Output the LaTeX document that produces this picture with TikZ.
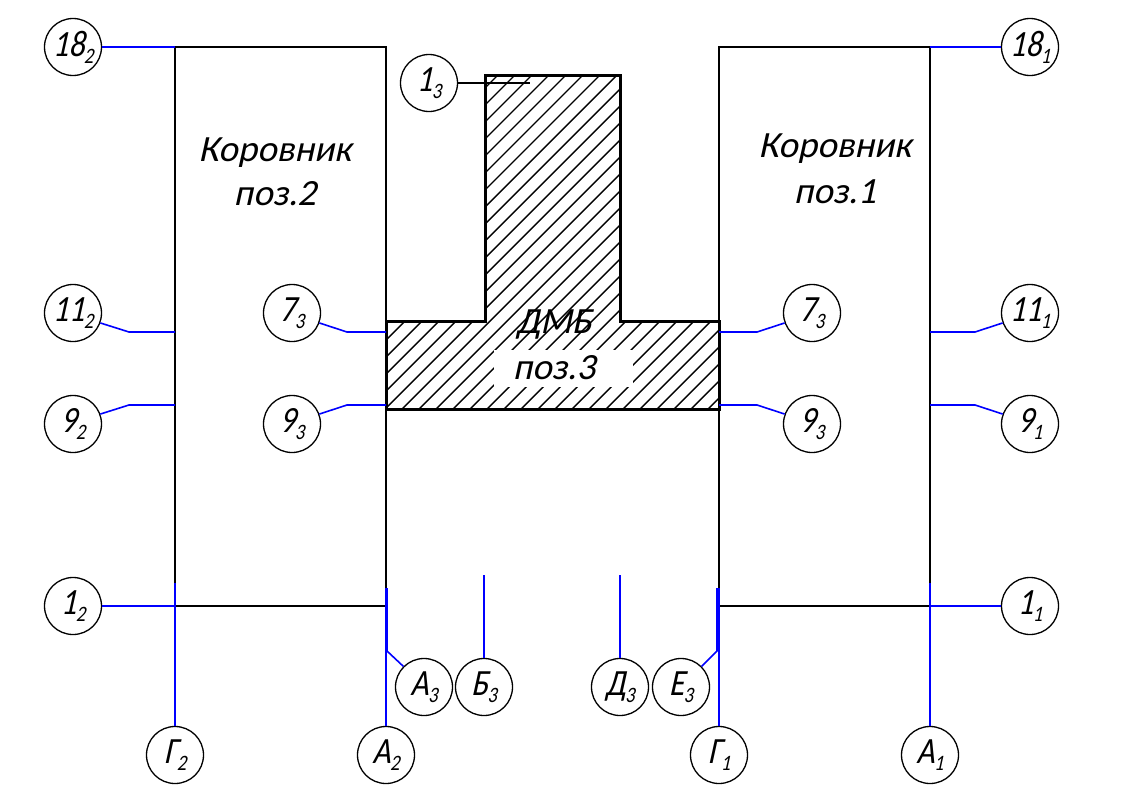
\documentclass[tikz,border=0pt]{standalone}
\usepackage{fontspec}
\setmainfont[FakeSlant=0.22]{Carlito}
\newfontfamily\narrowgost[FakeSlant=0.22,FakeStretch=0.85]{Carlito}
\newcommand{\lbl}[2]{{\narrowgost\fontsize{37}{37}\selectfont #1}\kern-0.5pt\raisebox{-7pt}{\narrowgost\fontsize{22}{22}\selectfont #2}}
\tikzset{
  mark circle/.style={circle,draw=black,line width=1.3pt,minimum size=57pt,inner sep=0pt,fill=white},
  wall/.style={draw=black,line width=2.1pt},
  thickwall/.style={draw=black,line width=3pt,line join=miter},
  lead/.style={draw=blue,line width=1.6pt},
  blead/.style={draw=black,line width=1.3pt},
  hatchline/.style={draw=black,line width=1.4pt},
  title/.style={align=center,font=\fontsize{37}{46}\selectfont,inner sep=0pt}
}
\begin{document}
\begin{tikzpicture}[x=1pt,y=-1pt]
\useasboundingbox (0,0) rectangle (1121,795);
% hatching
\begin{scope}
\clip (386,321) -- (485,321) -- (485,75) -- (620,75) -- (620,321) -- (719,321) -- (719,409) -- (386,409) -- cycle;
\foreach \c in {471,488,...,1128}{
  \draw[hatchline] (\c-409,409) -- (\c-70,70);
}
\fill[white] (494,350) rectangle (633,387);
\end{scope}
% buildings
\draw[wall] (386,606) -- (175,606) -- (175,47) -- (386,47) -- (386,606);
\draw[wall] (719,606) -- (930,606) -- (930,47) -- (719,47) -- (719,606);
\draw[thickwall] (386,321) -- (485,321) -- (485,75) -- (620,75) -- (620,321) -- (719,321) -- (719,409) -- (386,409) -- cycle;
% titles
\node[title] (t2) at (275,172) {Коровник\\[-2pt]поз.2};
\node[title] (t1) at (835,169) {Коровник\\поз.1};
\node[title] (t3) at (554,345) {ДМБ\\поз.3};
% numbered circles
\node[mark circle] (n18b) at (73,47) {\lbl{18}{2}};
\node[mark circle] (n18a) at (1030,47) {\lbl{18}{1}};
\node[mark circle] (n1c) at (429,83) {\lbl{1}{3}};
\node[mark circle] (n11b) at (73,313) {\lbl{11}{2}};
\node[mark circle] (n7l) at (292,313) {\lbl{7}{3}};
\node[mark circle] (n7r) at (812,313) {\lbl{7}{3}};
\node[mark circle] (n11a) at (1030,313) {\lbl{11}{1}};
\node[mark circle] (n9b) at (73,424) {\lbl{9}{2}};
\node[mark circle] (n9l) at (292,424) {\lbl{9}{3}};
\node[mark circle] (n9r) at (812,424) {\lbl{9}{3}};
\node[mark circle] (n9a) at (1030,424) {\lbl{9}{1}};
\node[mark circle] (n1b) at (73,606) {\lbl{1}{2}};
\node[mark circle] (n1a) at (1030,606) {\lbl{1}{1}};
\node[mark circle] (Gb) at (175,755) {\lbl{Г}{2}};
\node[mark circle] (Ab) at (386,755) {\lbl{А}{2}};
\node[mark circle] (Ga) at (719,755) {\lbl{Г}{1}};
\node[mark circle] (Aa) at (930,755) {\lbl{А}{1}};
\node[mark circle] (Ac) at (424,687) {\lbl{А}{3}};
\node[mark circle] (Bc) at (484,687) {\lbl{Б}{3}};
\node[mark circle] (Dc) at (620,687) {\lbl{Д}{3}};
\node[mark circle] (Ec) at (681,687) {\lbl{Е}{3}};
% free ends
\coordinate (e18b) at (175,47);
\coordinate (e18a) at (930,47);
\coordinate (e1c) at (530,83);
\coordinate (k11b) at (129,332); \coordinate (e11b) at (175,332);
\coordinate (k7l) at (347,332); \coordinate (e7l) at (386,332);
\coordinate (k7r) at (757,332); \coordinate (e7r) at (719,332);
\coordinate (k11a) at (975,332); \coordinate (e11a) at (930,332);
\coordinate (k9b) at (129,405); \coordinate (e9b) at (175,405);
\coordinate (k9l) at (347,405); \coordinate (e9l) at (386,405);
\coordinate (k9r) at (757,405); \coordinate (e9r) at (719,405);
\coordinate (k9a) at (975,405); \coordinate (e9a) at (930,405);
\coordinate (e1b) at (175,606);
\coordinate (e1a) at (930,606);
\coordinate (eGb) at (175,583);
\coordinate (eAb) at (386,588);
\coordinate (eGa) at (719,588);
\coordinate (eAa) at (930,583);
\coordinate (eBc) at (484,575);
\coordinate (eDc) at (620,575);
\coordinate (kAc) at (387,651); \coordinate (eAc) at (387,588);
\coordinate (kEc) at (717,651); \coordinate (eEc) at (717,588);
% connectors
\draw[blead] (n1c.east) -- (e1c);
\draw[lead] (n18b.east) -- (e18b);
\draw[lead] (n18a.west) -- (e18a);
\draw[lead] (n11b.-20) -- (k11b) -- (e11b);
\draw[lead] (n7l.-20) -- (k7l) -- (e7l);
\draw[lead] (n7r.200) -- (k7r) -- (e7r);
\draw[lead] (n11a.200) -- (k11a) -- (e11a);
\draw[lead] (n9b.20) -- (k9b) -- (e9b);
\draw[lead] (n9l.20) -- (k9l) -- (e9l);
\draw[lead] (n9r.160) -- (k9r) -- (e9r);
\draw[lead] (n9a.160) -- (k9a) -- (e9a);
\draw[lead] (n1b.east) -- (e1b);
\draw[lead] (n1a.west) -- (e1a);
\draw[lead] (Gb.north) -- (eGb);
\draw[lead] (Ab.north) -- (eAb);
\draw[lead] (Ga.north) -- (eGa);
\draw[lead] (Aa.north) -- (eAa);
\draw[lead] (Bc.north) -- (eBc);
\draw[lead] (Dc.north) -- (eDc);
\draw[lead] (Ac.135) -- (kAc) -- (eAc);
\draw[lead] (Ec.45) -- (kEc) -- (eEc);
\end{tikzpicture}
\end{document}
